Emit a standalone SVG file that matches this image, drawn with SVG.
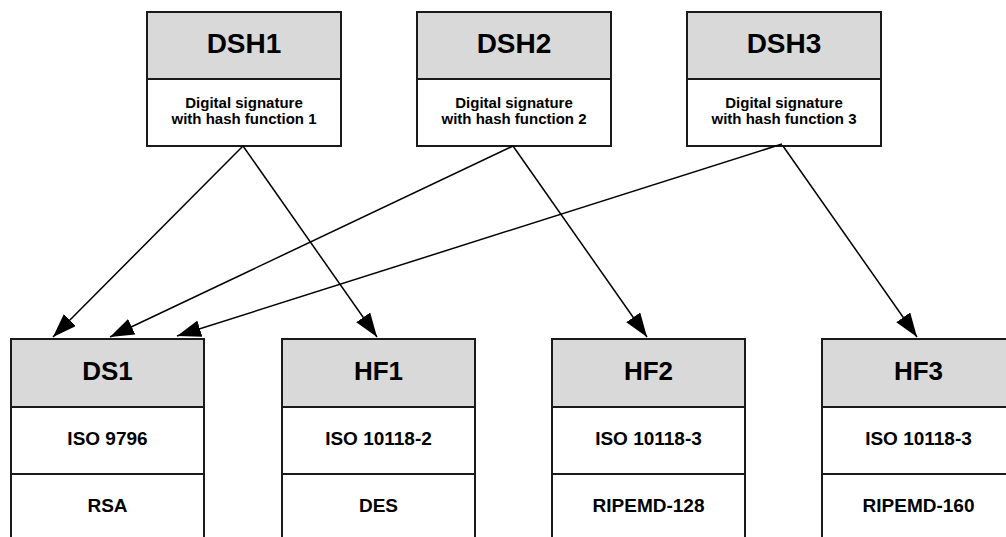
<svg xmlns="http://www.w3.org/2000/svg" width="1006" height="537" viewBox="0 0 1006 537">
  <defs>
    <marker id="arrow" markerUnits="userSpaceOnUse" markerWidth="24" markerHeight="17" refX="24" refY="8.5" orient="auto">
      <path d="M0,0 L24,8.5 L0,17 z" fill="#000"/>
    </marker>
  </defs>
  <style>
    .head { fill: #d9d9d9; stroke: #1a1a1a; stroke-width: 2; }
    .cell { fill: #ffffff; stroke: #1a1a1a; stroke-width: 2; }
    text { font-family: "Liberation Sans", Arial, sans-serif; font-weight: bold; fill: #000; text-anchor: middle; }
    .t1 { font-size: 28px; }
    .t2 { font-size: 26px; }
    .s1 { font-size: 15px; }
    .s2 { font-size: 19px; }
    .edge { stroke: #000; stroke-width: 1.5; fill: none; marker-end: url(#arrow); }
  </style>
  <rect width="1006" height="537" fill="#ffffff"/>

  <!-- signature schemes -->
  <g id="DSH1">
    <rect class="head" x="147" y="12" width="194" height="67"/>
    <rect class="cell" x="147" y="79" width="194" height="67"/>
    <text class="t1" x="244" y="53">DSH1</text>
    <text class="s1" x="244" y="108">Digital signature</text>
    <text class="s1" x="244" y="124">with hash function 1</text>
  </g>
  <g id="DSH2">
    <rect class="head" x="417" y="12" width="194" height="67"/>
    <rect class="cell" x="417" y="79" width="194" height="67"/>
    <text class="t1" x="514" y="53">DSH2</text>
    <text class="s1" x="514" y="108">Digital signature</text>
    <text class="s1" x="514" y="124">with hash function 2</text>
  </g>
  <g id="DSH3">
    <rect class="head" x="687" y="12" width="194" height="67"/>
    <rect class="cell" x="687" y="79" width="194" height="67"/>
    <text class="t1" x="784" y="53">DSH3</text>
    <text class="s1" x="784" y="108">Digital signature</text>
    <text class="s1" x="784" y="124">with hash function 3</text>
  </g>

  <!-- components -->
  <g id="DS1">
    <rect class="head" x="11" y="339" width="193" height="68"/>
    <rect class="cell" x="11" y="407" width="193" height="67"/>
    <rect class="cell" x="11" y="474" width="193" height="80"/>
    <text class="t2" x="107.5" y="380">DS1</text>
    <text class="s2" x="107.5" y="445">ISO 9796</text>
    <text class="s2" x="107.5" y="512">RSA</text>
  </g>
  <g id="HF1">
    <rect class="head" x="282" y="339" width="193" height="68"/>
    <rect class="cell" x="282" y="407" width="193" height="67"/>
    <rect class="cell" x="282" y="474" width="193" height="80"/>
    <text class="t2" x="378.5" y="380">HF1</text>
    <text class="s2" x="378.5" y="445">ISO 10118-2</text>
    <text class="s2" x="378.5" y="512">DES</text>
  </g>
  <g id="HF2">
    <rect class="head" x="552" y="339" width="193" height="68"/>
    <rect class="cell" x="552" y="407" width="193" height="67"/>
    <rect class="cell" x="552" y="474" width="193" height="80"/>
    <text class="t2" x="648.5" y="380">HF2</text>
    <text class="s2" x="648.5" y="445">ISO 10118-3</text>
    <text class="s2" x="648.5" y="512">RIPEMD-128</text>
  </g>
  <g id="HF3">
    <rect class="head" x="822" y="339" width="193" height="68"/>
    <rect class="cell" x="822" y="407" width="193" height="67"/>
    <rect class="cell" x="822" y="474" width="193" height="80"/>
    <text class="t2" x="918.5" y="380">HF3</text>
    <text class="s2" x="918.5" y="445">ISO 10118-3</text>
    <text class="s2" x="918.5" y="512">RIPEMD-160</text>
  </g>

  <!-- dependencies -->
  <g id="connectors">
    <line class="edge" x1="243" y1="146" x2="53" y2="337"/>
    <line class="edge" x1="243" y1="146" x2="377" y2="337"/>
    <line class="edge" x1="513" y1="146" x2="110" y2="337"/>
    <line class="edge" x1="513" y1="146" x2="647" y2="337"/>
    <line class="edge" x1="782" y1="144" x2="177" y2="336"/>
    <line class="edge" x1="783" y1="146" x2="917" y2="337"/>
  </g>
</svg>
